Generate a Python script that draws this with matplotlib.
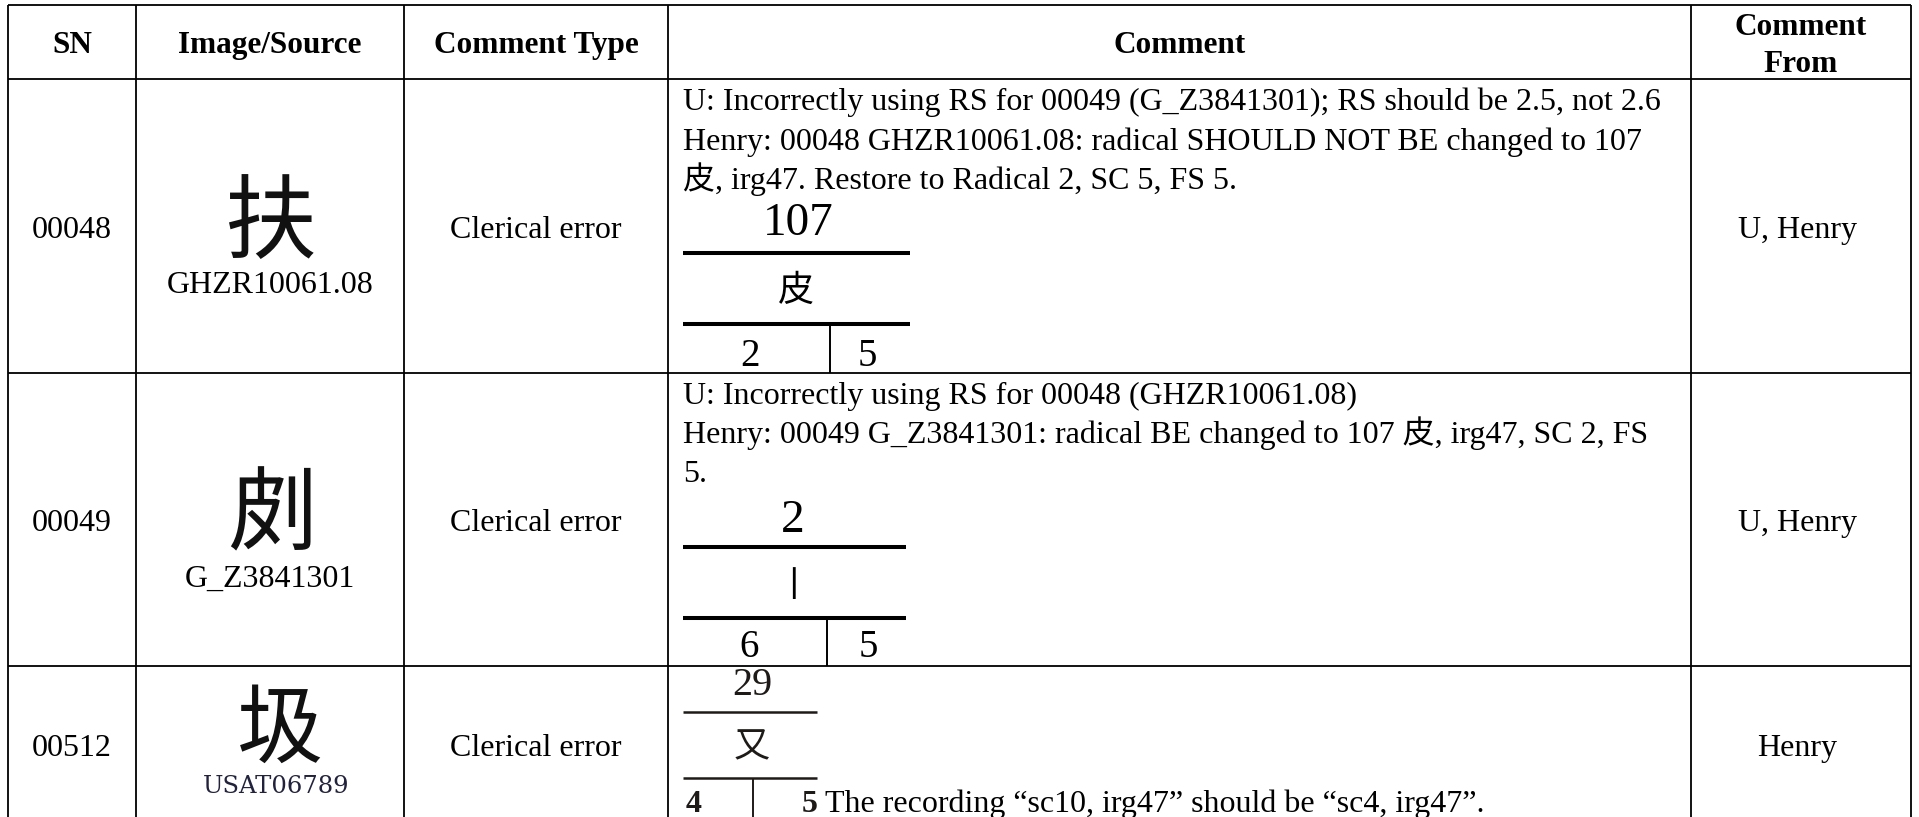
import matplotlib
matplotlib.use("Agg")
import matplotlib.pyplot as plt

# ---------------- data ----------------
headers = ["SN", "Image/Source", "Comment Type", "Comment", "Comment\nFrom"]
sn = ["00048", "00049", "00512"]
glyphs = ["扶", "㓟", "圾"]
sources = ["GHZR10061.08", "G_Z3841301", "USAT06789"]
comment_types = ["Clerical error", "Clerical error", "Clerical error"]
comment_lines = [
    ["U: Incorrectly using RS for 00049 (G_Z3841301); RS should be 2.5, not 2.6",
     "Henry: 00048 GHZR10061.08: radical SHOULD NOT BE changed to 107",
     "皮, irg47. Restore to Radical 2, SC 5, FS 5."],
    ["U: Incorrectly using RS for 00048 (GHZR10061.08)",
     "Henry: 00049 G_Z3841301: radical BE changed to 107 皮, irg47, SC 2, FS",
     "5."],
    ["The recording “sc10, irg47” should be “sc4, irg47”."],
]
comment_from = ["U, Henry", "U, Henry", "Henry"]
rs_radical = ["107", "2", "29"]
rs_radical_char = ["皮", "丨", "又"]
rs_sc = ["2", "6", "4"]
rs_fs = ["5", "5", "5"]

# ---------------- layout ----------------
W, H = 1919, 817
col_x = [8, 136, 404, 668, 1691, 1911]
row_y = [5, 79, 373, 666, 823]
comment_base = [[110, 150, 189], [404, 443, 482], [812]]
comment_x = [683, 683, 825]
rs_layout = [
    dict(num_x=798, num_y=235, num_fs=34, l1=253, ch_x=796, ch_y=301, ch_fs=26,
         l2=324, x0=683, x1=910, div=830, sc_x=750, fs_x=867, sub_y=366, sub_fs=28,
         lw=2.9, col="black", sub_w="normal"),
    dict(num_x=793, num_y=532, num_fs=34, l1=547, ch_x=793, ch_y=596, ch_fs=25,
         l2=618, x0=683, x1=906, div=827, sc_x=749, fs_x=868, sub_y=657, sub_fs=28,
         lw=2.9, col="black", sub_w="normal"),
    dict(num_x=752, num_y=695, num_fs=29, l1=712, ch_x=752, ch_y=757, ch_fs=26,
         l2=778, x0=683, x1=817, div=753, sc_x=694, fs_x=810, sub_y=812, sub_fs=23,
         lw=1.8, col="#1e1a18", sub_w="bold"),
]
glyph_pos = [(271, 251), (272, 543), (280, 756)]
glyph_fs = [66, 66, 62]
source_base = [293, 587, 793]

SERIF = ["Liberation Serif", "Noto Sans CJK SC"]
CJK = ["Noto Sans CJK SC", "DejaVu Sans"]
plt.rcParams["font.family"] = SERIF

BODY = 23
HEAD = 22.5
CAP = 0.662 * BODY * 100 / 72 / 2  # half cap height in px

fig = plt.figure(figsize=(W / 100, H / 100), dpi=100)
ax = fig.add_axes([0, 0, 1, 1])
ax.set_xlim(0, W)
ax.set_ylim(H, 0)
ax.axis("off")

# table grid
lw_grid = 1.3
for x in col_x:
    ax.plot([x, x], [row_y[0], row_y[-1]], color="black", lw=lw_grid, solid_capstyle="butt")
for y in row_y[:-1]:
    ax.plot([col_x[0], col_x[-1]], [y, y], color="black", lw=lw_grid, solid_capstyle="butt")

centers = [(col_x[i] + col_x[i + 1]) / 2 for i in range(len(col_x) - 1)]

# headers
for i, h in enumerate(headers):
    if "\n" in h:
        parts = h.split("\n")
        for j, p in enumerate(parts):
            ax.text(centers[i], [35, 72][j], p, ha="center", va="baseline",
                    fontsize=HEAD, fontweight="bold")
    else:
        ax.text(centers[i], 53, h, ha="center", va="baseline",
                fontsize=HEAD, fontweight="bold")

# rows
for r in range(len(sn)):
    yc = (row_y[r + 1] + row_y[r + 2]) / 2
    base = yc + CAP + 1
    ax.text(centers[0], base, sn[r], ha="center", va="baseline", fontsize=BODY)
    ax.text(centers[2], base, comment_types[r], ha="center", va="baseline", fontsize=BODY)
    ax.text(centers[4] - 4, base, comment_from[r], ha="center", va="baseline", fontsize=BODY)

    gx, gy = glyph_pos[r]
    ax.text(gx, gy, glyphs[r], ha="center", va="baseline", fontsize=glyph_fs[r],
            family=CJK, fontweight="light", color="#111111")
    if r < 2:
        ax.text(centers[1], source_base[r], sources[r], ha="center", va="baseline",
                fontsize=BODY)
    else:
        ax.text(centers[1] + 6, source_base[r], sources[r], ha="center", va="baseline",
                fontsize=17.5, family=["DejaVu Serif"], color="#22223c")

    for k, line in enumerate(comment_lines[r]):
        ax.text(comment_x[r], comment_base[r][k], line, ha="left", va="baseline",
                fontsize=BODY)

    L = rs_layout[r]
    c = L["col"]
    ax.text(L["num_x"], L["num_y"], rs_radical[r], ha="center", va="baseline",
            fontsize=L["num_fs"], color=c)
    ax.plot([L["x0"], L["x1"]], [L["l1"], L["l1"]], color=c, lw=L["lw"], solid_capstyle="butt")
    ax.text(L["ch_x"], L["ch_y"], rs_radical_char[r], ha="center", va="baseline",
            fontsize=L["ch_fs"], family=CJK, fontweight="light", color=c)
    ax.plot([L["x0"], L["x1"]], [L["l2"], L["l2"]], color=c, lw=L["lw"], solid_capstyle="butt")
    ax.plot([L["div"], L["div"]], [L["l2"], row_y[r + 2]], color=c, lw=1.4, solid_capstyle="butt")
    ax.text(L["sc_x"], L["sub_y"], rs_sc[r], ha="center", va="baseline",
            fontsize=L["sub_fs"], color=c, fontweight=L["sub_w"])
    ax.text(L["fs_x"], L["sub_y"], rs_fs[r], ha="center", va="baseline",
            fontsize=L["sub_fs"], color=c, fontweight=L["sub_w"])

fig.savefig("out.png", dpi=100, facecolor="white")
